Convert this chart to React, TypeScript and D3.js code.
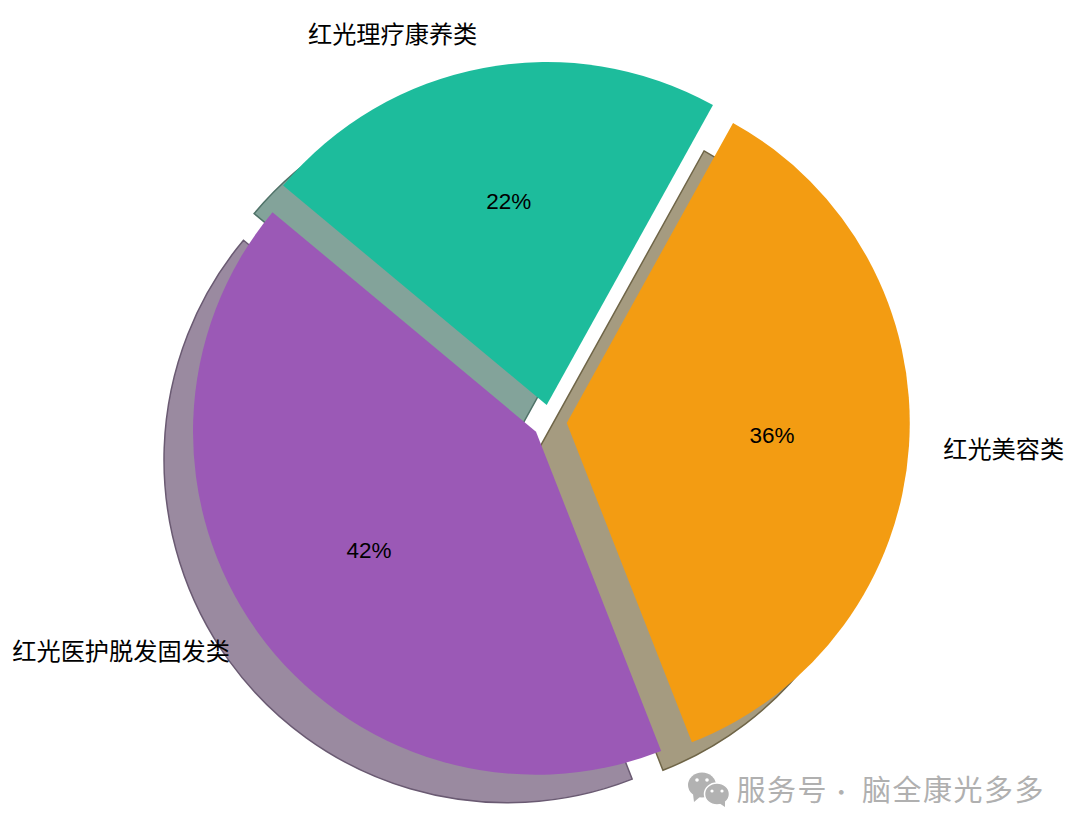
import React from 'react';
import * as d3 from 'd3';

// slices clockwise, starting from the orange one
const categories = ['红光美容类', '红光医护脱发固发类', '红光理疗康养类'];
const shares = [36, 42, 22];
const sliceColors = ['#f39c12', '#9b59b6', '#1dbc9c'];
const shadowColors = ['#a59b80', '#9a8aa0', '#83a39a'];
const shadowEdges = ['#6f6547', '#6a5a72', '#4f7268'];
const labelAnchors = ['start', 'end', 'end'];
const labelNudgeY = [0, -2.5, -2];
const explode = [17, 17, 17];

const width = 1080;
const height = 833;
const cx = 549.8;
const cy = 421.8;
const radius = 343;
const shadowDx = -29;
const shadowDy = 28;
const startAngle = (29 * Math.PI) / 180;

const pieGen = d3
  .pie<number>()
  .sort(null)
  .startAngle(startAngle)
  .endAngle(startAngle + 2 * Math.PI);

const arcGen = d3.arc<d3.PieArcDatum<number>>().innerRadius(0).outerRadius(radius);
const labelArc = d3.arc<d3.PieArcDatum<number>>().innerRadius(radius * 1.1).outerRadius(radius * 1.1);
const pctArc = d3.arc<d3.PieArcDatum<number>>().innerRadius(radius * 0.6).outerRadius(radius * 0.6);
const explodeArc = d3.arc<d3.PieArcDatum<number>>().innerRadius(1).outerRadius(1);

const cjkFont = '"Noto Sans CJK SC", "Noto Sans", sans-serif';

const App: React.FC = () => {
  const slices = pieGen(shares);
  const offsets = slices.map((d, i) => {
    const [ux, uy] = explodeArc.centroid(d);
    return [cx + ux * explode[i], cy + uy * explode[i]];
  });

  return (
    <svg
      width={width}
      height={height}
      viewBox={`0 0 ${width} ${height}`}
      style={{ position: 'absolute', left: 0, top: 0, background: '#fff' }}
    >
      {/* shadows first, the wedges all sit on top of them */}
      {slices.map((d, i) => (
        <path
          key={`shadow-${i}`}
          d={arcGen(d) || ''}
          transform={`translate(${offsets[i][0] + shadowDx},${offsets[i][1] + shadowDy})`}
          fill={shadowColors[i]}
          stroke={shadowEdges[i]}
          strokeWidth={1.5}
        />
      ))}
      {slices.map((d, i) => (
        <path
          key={`slice-${i}`}
          d={arcGen(d) || ''}
          transform={`translate(${offsets[i][0]},${offsets[i][1]})`}
          fill={sliceColors[i]}
        />
      ))}
      {slices.map((d, i) => {
        const [lx, ly] = labelArc.centroid(d);
        const [px, py] = pctArc.centroid(d);
        return (
          <g key={`text-${i}`} transform={`translate(${offsets[i][0]},${offsets[i][1]})`}>
            <text
              x={lx}
              y={ly + labelNudgeY[i]}
              textAnchor={labelAnchors[i] as 'start' | 'end'}
              dominantBaseline="central"
              fontFamily={cjkFont}
              fontSize={24.2}
              fill="#000"
            >
              {categories[i]}
            </text>
            <text
              x={px}
              y={py - 1.5}
              textAnchor="middle"
              dominantBaseline="central"
              fontFamily='"Liberation Sans", Arial, sans-serif'
              fontSize={22.5}
              fill="#000"
            >
              {`${d.data}%`}
            </text>
          </g>
        );
      })}

      {/* watermark */}
      <g fill="#b2b2b2">
        <ellipse cx={702} cy={785} rx={14} ry={12.5} />
        <path d="M693 794 L694 802 L701 796 Z" />
        <ellipse cx={717} cy={794} rx={12.5} ry={11} stroke="#fff" strokeWidth={1.5} />
        <path d="M719 803 L725 807 L725 801 Z" />
        <g fill="#fff">
          <circle cx={697} cy={780} r={1.8} />
          <circle cx={707} cy={780} r={1.8} />
          <circle cx={712} cy={791} r={1.6} />
          <circle cx={722} cy={791} r={1.6} />
        </g>
      </g>
      <g fontFamily={cjkFont} fontSize={29} fill="#b0b0b0" letterSpacing={1.5}>
        <text x={736.5} y={801}>服务号</text>
        <text x={842} y={800} textAnchor="middle" fontSize={22}>·</text>
        <text x={862} y={801}>脑全康光多多</text>
      </g>
    </svg>
  );
};

export default App;
